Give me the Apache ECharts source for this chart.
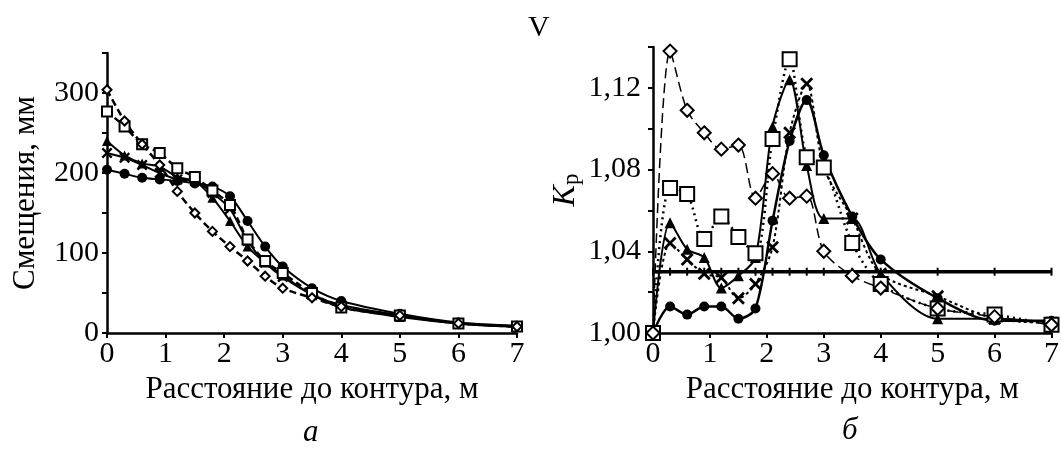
<!DOCTYPE html>
<html><head><meta charset="utf-8">
<script src="https://cdn.jsdelivr.net/npm/echarts@6/dist/echarts.min.js"></script>
<style>html,body{margin:0;padding:0;background:#fff}#c{width:1062px;height:461px}</style>
</head><body><div id="c"></div>
<script>
// Distances from contour, m
const xDist = [0, 0.3, 0.6, 0.9, 1.2, 1.5, 1.8, 2.1, 2.4, 2.7, 3, 3.5, 4, 5, 6, 7];
// Panel а: displacements, mm
const dispCircle   = [204, 199, 194, 192, 190, 187, 183, 171, 140, 108, 83, 56, 40, 24, 13, 9];
const dispTriangle = [240, 222, 212, 208, 195, 190, 169, 140, 108, 88, 72, 48, 32, 20, 12, 8];
const dispCross    = [225, 219, 210, 200, 192, 190, 175, 155, 115, 88, 70, 48, 35, 22, 12, 8];
const dispSquare   = [277, 258, 236, 225, 206, 195, 178, 160, 117, 90, 75, 50, 32, 22, 12, 8];
const dispDiamond  = [304, 265, 236, 210, 177, 150, 127, 108, 90, 71, 56, 44, 33, 22, 12, 8];
// Panel б: Kp
const kpCircle   = [1.000, 1.013, 1.009, 1.013, 1.013, 1.007, 1.012, 1.055, 1.094, 1.114, 1.087, 1.057, 1.036, 1.017, 1.006, 1.006];
const kpTriangle = [1.000, 1.054, 1.041, 1.037, 1.022, 1.028, 1.037, 1.101, 1.124, 1.082, 1.056, 1.056, 1.029, 1.007, 1.007, 1.005];
const kpCross    = [1.000, 1.044, 1.036, 1.029, 1.027, 1.017, 1.024, 1.042, 1.098, 1.122, 1.081, 1.056, 1.029, 1.018, 1.007, 1.005];
const kpSquare   = [1.000, 1.071, 1.068, 1.046, 1.057, 1.047, 1.039, 1.095, 1.134, 1.086, 1.081, 1.044, 1.024, 1.012, 1.009, 1.004];
const kpDiamond  = [1.000, 1.138, 1.109, 1.098, 1.090, 1.092, 1.066, 1.078, 1.066, 1.067, 1.040, 1.028, 1.022, 1.012, 1.008, 1.004];
const kpLimit = 1.03;
const xTicks = ['0','1','2','3','4','5','6','7'];

const FONT = 'Liberation Serif';
const crossPath = 'path://M0,1.5L1.5,0L5,3.5L8.5,0L10,1.5L6.5,5L10,8.5L8.5,10L5,6.5L1.5,10L0,8.5L3.5,5Z';
const pair = arr => xDist.map((x, i) => [x, arr[i]]);

const chart = echarts.init(document.getElementById('c'), null, {renderer: 'canvas'});

function xAxisDef(gi) {
  return {
    gridIndex: gi, type: 'value', min: 0, max: 7, interval: 1,
    name: 'Расстояние до контура, м', nameLocation: 'middle', nameGap: 35,
    nameTextStyle: {fontFamily: FONT, fontSize: 31, color: '#000'},
    axisLine: {lineStyle: {color: '#000', width: 2.5}},
    axisTick: {show: true, length: 5, lineStyle: {color: '#000', width: 2}},
    axisLabel: {fontFamily: FONT, fontSize: 30, color: '#000', margin: 6,
      formatter: v => xTicks[Math.round(v)]},
    splitLine: {show: false}
  };
}

function mk(name, gi, data, symbol, size, filled, lineType, lw, smooth) {
  return {
    type: 'line', name, xAxisIndex: gi, yAxisIndex: gi, data: pair(data),
    symbol, symbolSize: size, smooth: smooth, showSymbol: true,
    lineStyle: {color: '#000', width: lw, type: lineType},
    itemStyle: filled ? {color: '#000'} : {color: '#fff', borderColor: '#000', borderWidth: 2},
    z: 3, animation: false
  };
}

const option = {
  backgroundColor: '#fff',
  animation: false,
  grid: [
    {left: 107, top: 53, width: 410, height: 280, containLabel: false},
    {left: 653, top: 47, width: 400, height: 286, containLabel: false}
  ],
  xAxis: [xAxisDef(0), xAxisDef(1)],
  yAxis: [
    {
      gridIndex: 0, type: 'value', min: 0, max: 350, interval: 50,
      name: 'Смещения, мм', nameLocation: 'middle', nameGap: 66,
      nameTextStyle: {fontFamily: FONT, fontSize: 31, color: '#000'},
      axisLine: {show: true, lineStyle: {color: '#000', width: 2.5}},
      axisTick: {show: true, length: 5, lineStyle: {color: '#000', width: 2}},
      axisLabel: {fontFamily: FONT, fontSize: 30, color: '#000', margin: 8,
        formatter: v => (v % 100 === 0 && v <= 300) ? String(v) : ''},
      splitLine: {show: false}
    },
    {
      gridIndex: 1, type: 'value', min: 1.00, max: 1.14, interval: 0.02,
      name: '{k|K}{p|р}', nameLocation: 'middle', nameGap: 70,
      nameTextStyle: {fontFamily: FONT, color: '#000',
        rich: {
          k: {fontFamily: FONT, fontSize: 32, fontStyle: 'italic', color: '#000'},
          p: {fontFamily: FONT, fontSize: 23, color: '#000', padding: [12, 0, 0, 0]}
        }},
      axisLine: {show: true, lineStyle: {color: '#000', width: 2.5}},
      axisTick: {show: true, length: 5, lineStyle: {color: '#000', width: 2}},
      axisLabel: {fontFamily: FONT, fontSize: 30, color: '#000', margin: 12,
        formatter: v => {
          const h = Math.round(v * 100);
          return (h % 4 === 0 && h <= 112) ? (h / 100).toFixed(2).replace('.', ',') : '';
        }},
      splitLine: {show: false}
    }
  ],
  graphic: [
    {type: 'text', left: 528, top: 13, style: {text: 'V', font: '30px "Liberation Serif"', fill: '#000'}},
    {type: 'text', left: 303, top: 417, style: {text: 'а', font: 'italic 31px "Liberation Serif"', fill: '#000'}},
    {type: 'text', left: 842, top: 415, style: {text: 'б', font: 'italic 31px "Liberation Serif"', fill: '#000'}}
  ],
  series: [
    // panel а
    mk('c', 0, dispCircle, 'circle', 10, true, 'solid', 2, 0.3),
    mk('t', 0, dispTriangle, 'triangle', 10, true, 'solid', 2, 0.3),
    mk('x', 0, dispCross, crossPath, 11, true, 'solid', 2, 0.3),
    mk('s', 0, dispSquare, 'rect', 10, false, [6, 4], 2.5, 0.3),
    mk('d', 0, dispDiamond, 'diamond', 9, false, [7, 4], 2.5, 0.3),
    // panel б
    {
      type: 'line', xAxisIndex: 1, yAxisIndex: 1,
      data: xDist.map(x => [x, kpLimit]),
      symbol: 'rect', symbolSize: [2, 8], showSymbol: true,
      lineStyle: {color: '#000', width: 3.5}, itemStyle: {color: '#000'}, z: 2, animation: false
    },
    mk('c', 1, kpCircle, 'circle', 10, true, 'solid', 2.5, 0.3),
    mk('t', 1, kpTriangle, 'triangle', 11, true, 'solid', 2, 0.3),
    mk('x', 1, kpCross, crossPath, 13, true, [3, 3], 2, 0.3),
    mk('s', 1, kpSquare, 'rect', 14, false, [2, 4], 2.5, 0.3),
    mk('d', 1, kpDiamond, 'diamond', 13, false, [10, 5], 1.5, 0.3)
  ]
};
chart.setOption(option);
</script>
</body></html>
